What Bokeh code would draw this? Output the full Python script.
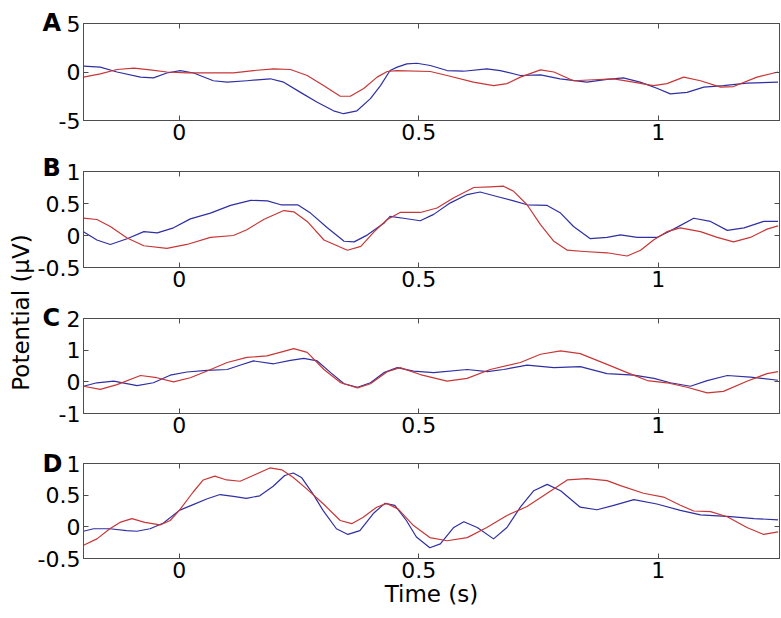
import math
from bokeh.plotting import figure
from bokeh.models import FixedTicker, CustomJSTickFormatter, LinearAxis, Label, Range1d
from bokeh.layouts import row, column
from bokeh.embed import file_html
from bokeh.resources import INLINE

# ---------------- data ----------------
X_TICKS = [0, 0.5, 1]
PANEL_LETTERS = ["A", "B", "C", "D"]
Y_RANGES = [(-5, 5), (-0.5, 1), (-1, 2), (-0.5, 1)]
Y_TICKS = [[-5, 0, 5], [-0.5, 0, 0.5, 1], [-1, 0, 1, 2], [-0.5, 0, 0.5, 1]]

A_BLUE_T = [-0.2, -0.165, -0.13, -0.081, -0.054, -0.026, 0.002, 0.03, 0.071, 0.1, 0.141, 0.19, 0.218, 0.253, 0.287,
            0.322, 0.343, 0.371, 0.399, 0.42, 0.44, 0.455, 0.475, 0.496, 0.524, 0.559, 0.593, 0.642, 0.67, 0.712,
            0.754, 0.795, 0.851, 0.893, 0.927, 0.962, 0.997, 1.025, 1.06, 1.095, 1.136, 1.185, 1.25]
A_BLUE_V = [0.6, 0.5, 0.0, -0.53, -0.6, -0.1, 0.15, -0.1, -0.9, -1.05, -0.9, -0.7, -1.05, -2.1, -3.1,
            -4.0, -4.3, -4.0, -2.75, -1.4, 0.15, 0.5, 0.84, 0.9, 0.67, 0.15, 0.08, 0.33, 0.15, -0.36,
            -0.3, -0.7, -1.05, -0.77, -0.6, -1.05, -1.67, -2.25, -2.1, -1.56, -1.4, -1.15, -1.05]
A_RED_T = [-0.2, -0.165, -0.13, -0.095, -0.061, -0.026, 0.016, 0.071, 0.113, 0.155, 0.197, 0.232, 0.267, 0.301,
           0.336, 0.357, 0.385, 0.413, 0.434, 0.454, 0.524, 0.559, 0.614, 0.656, 0.684, 0.712, 0.754, 0.782, 0.823,
           0.865, 0.907, 0.948, 0.99, 1.018, 1.053, 1.088, 1.13, 1.157, 1.206, 1.25]
A_RED_V = [-0.53, -0.2, 0.26, 0.4, 0.22, 0.0, -0.1, -0.1, -0.1, 0.15, 0.33, 0.26, -0.36, -1.4,
           -2.5, -2.5, -1.7, -0.53, 0.05, 0.15, 0.05, -0.36, -1.05, -1.4, -1.2, -0.53, 0.22, 0.0, -0.9,
           -0.8, -0.7, -1.05, -1.4, -1.2, -0.53, -0.9, -1.56, -1.5, -0.53, 0.0]

B_BLUE_T = [-0.2, -0.172, -0.144, -0.109, -0.074, -0.046, -0.012, 0.023, 0.065, 0.107, 0.149, 0.184, 0.212, 0.247,
            0.274, 0.309, 0.344, 0.365, 0.393, 0.427, 0.44, 0.468, 0.503, 0.531, 0.566, 0.601, 0.628, 0.663, 0.698,
            0.726, 0.768, 0.796, 0.823, 0.858, 0.893, 0.921, 0.956, 0.997, 1.032, 1.074, 1.109, 1.144, 1.179,
            1.22, 1.25]
B_BLUE_V = [0.06, -0.07, -0.14, -0.05, 0.06, 0.04, 0.12, 0.26, 0.35, 0.47, 0.55, 0.54, 0.48, 0.48,
            0.35, 0.12, -0.09, -0.1, 0.01, 0.19, 0.3, 0.27, 0.23, 0.33, 0.51, 0.64, 0.68, 0.61, 0.54,
            0.48, 0.47, 0.35, 0.14, -0.05, -0.03, 0.01, -0.03, -0.03, 0.1, 0.27, 0.22, 0.08, 0.12,
            0.22, 0.22]
B_RED_T = [-0.2, -0.172, -0.144, -0.109, -0.074, -0.026, 0.016, 0.065, 0.113, 0.141, 0.176, 0.218, 0.239, 0.267,
           0.302, 0.351, 0.379, 0.407, 0.434, 0.461, 0.503, 0.538, 0.573, 0.615, 0.649, 0.677, 0.698, 0.726,
           0.754, 0.782, 0.81, 0.845, 0.893, 0.935, 0.963, 0.99, 1.018, 1.046, 1.088, 1.123, 1.157, 1.192,
           1.227, 1.25]
B_RED_V = [0.27, 0.25, 0.14, -0.04, -0.16, -0.2, -0.14, -0.03, 0.0, 0.09, 0.25, 0.39, 0.37, 0.22,
           -0.07, -0.23, -0.17, 0.06, 0.25, 0.36, 0.36, 0.43, 0.59, 0.75, 0.76, 0.77, 0.69, 0.48,
           0.17, -0.09, -0.23, -0.25, -0.27, -0.32, -0.23, -0.07, 0.06, 0.12, 0.06, -0.03, -0.1, -0.03,
           0.1, 0.15]

C_BLUE_T = [-0.2, -0.172, -0.137, -0.088, -0.054, -0.019, 0.016, 0.058, 0.1, 0.128, 0.155, 0.197, 0.232, 0.26,
            0.288, 0.316, 0.344, 0.372, 0.399, 0.427, 0.455, 0.489, 0.531, 0.601, 0.643, 0.677, 0.726, 0.782,
            0.837, 0.893, 0.949, 0.991, 1.025, 1.067, 1.102, 1.144, 1.192, 1.25]
C_BLUE_V = [-0.14, -0.03, 0.02, -0.12, -0.03, 0.21, 0.31, 0.36, 0.39, 0.53, 0.66, 0.57, 0.68, 0.74,
            0.66, 0.29, -0.06, -0.17, -0.03, 0.29, 0.45, 0.34, 0.29, 0.39, 0.32, 0.39, 0.53, 0.45,
            0.48, 0.26, 0.21, 0.11, -0.03, -0.14, 0.04, 0.2, 0.15, 0.05]
C_RED_T = [-0.2, -0.165, -0.13, -0.081, -0.047, -0.012, 0.023, 0.058, 0.1, 0.141, 0.183, 0.218, 0.239, 0.267,
           0.302, 0.337, 0.372, 0.399, 0.434, 0.461, 0.503, 0.559, 0.601, 0.649, 0.712, 0.754, 0.796, 0.837,
           0.893, 0.935, 0.977, 1.018, 1.06, 1.102, 1.136, 1.185, 1.227, 1.25]
C_RED_V = [-0.14, -0.24, -0.09, 0.2, 0.13, 0.0, 0.13, 0.34, 0.61, 0.77, 0.82, 0.96, 1.05, 0.93,
           0.39, -0.03, -0.19, -0.06, 0.32, 0.45, 0.23, 0.02, 0.11, 0.39, 0.61, 0.87, 0.98, 0.89,
           0.55, 0.29, 0.04, -0.03, -0.17, -0.35, -0.3, 0.02, 0.26, 0.32]

D_BLUE_T = [-0.2, -0.179, -0.145, -0.11, -0.089, -0.061, -0.033, 0.0, 0.029, 0.057, 0.085, 0.113, 0.14, 0.168,
            0.196, 0.22, 0.238, 0.255, 0.279, 0.3, 0.328, 0.352, 0.377, 0.405, 0.429, 0.45, 0.474, 0.495, 0.523,
            0.545, 0.573, 0.594, 0.622, 0.656, 0.684, 0.712, 0.74, 0.768, 0.796, 0.837, 0.872, 0.907, 0.949,
            0.997, 1.046, 1.088, 1.151, 1.2, 1.25]
D_BLUE_V = [-0.07, -0.03, -0.03, -0.06, -0.07, -0.03, 0.06, 0.26, 0.35, 0.44, 0.51, 0.48, 0.45, 0.49,
            0.64, 0.81, 0.85, 0.78, 0.52, 0.26, -0.03, -0.12, -0.06, 0.21, 0.37, 0.34, 0.1, -0.16, -0.33,
            -0.27, -0.01, 0.08, -0.01, -0.19, -0.01, 0.31, 0.57, 0.67, 0.57, 0.31, 0.27, 0.34, 0.43,
            0.36, 0.26, 0.19, 0.16, 0.13, 0.11]
D_RED_T = [-0.2, -0.172, -0.145, -0.124, -0.099, -0.072, -0.04, -0.019, 0.0, 0.029, 0.05, 0.074, 0.099, 0.127,
           0.154, 0.189, 0.214, 0.238, 0.266, 0.301, 0.336, 0.36, 0.384, 0.412, 0.433, 0.457, 0.489, 0.523,
           0.559, 0.601, 0.642, 0.684, 0.726, 0.768, 0.81, 0.851, 0.893, 0.921, 0.969, 1.011, 1.046, 1.074,
           1.109, 1.144, 1.185, 1.22, 1.25]
D_RED_V = [-0.29, -0.19, -0.03, 0.07, 0.13, 0.07, 0.03, 0.1, 0.26, 0.55, 0.74, 0.8, 0.74, 0.72,
           0.81, 0.93, 0.9, 0.78, 0.6, 0.36, 0.1, 0.05, 0.15, 0.31, 0.37, 0.28, 0.02, -0.17,
           -0.22, -0.17, -0.01, 0.18, 0.32, 0.53, 0.74, 0.76, 0.73, 0.65, 0.53, 0.47, 0.34, 0.25,
           0.24, 0.16, -0.01, -0.12, -0.08]

SERIES = [
    (A_BLUE_T, A_BLUE_V, A_RED_T, A_RED_V),
    (B_BLUE_T, B_BLUE_V, B_RED_T, B_RED_V),
    (C_BLUE_T, C_BLUE_V, C_RED_T, C_RED_V),
    (D_BLUE_T, D_BLUE_V, D_RED_T, D_RED_V),
]

# ---------------- style ----------------
FONT = "DejaVu Sans"
TICK_SIZE = "22px"
LABEL_SIZE = "23px"
AXIS_COLOR = "#4d4d4d"
BLUE = "#2f2fa3"
RED = "#c83636"
X_MIN, X_MAX = -0.2, 1.253

HEIGHTS = [148, 147, 145, 166]
BORDER_BOTTOM = [36, 36, 35, 56]
BORDER_TOP = 15
LETTER_DY = [1, 4, 1, 0]
PANEL_W = 749
LEFT_W = 60          # left strip holding "Potential" and panel letters
OVERLAP = 36         # panels overlap the left strip (their borders are transparent)
BORDER_LEFT = 51
PAGE_MARGIN = 8

label_fmt = CustomJSTickFormatter(code="return tick.toString();")
blank_fmt = CustomJSTickFormatter(code="return '';")

panels = []
for i in range(4):
    p = figure(width=PANEL_W, height=HEIGHTS[i], output_backend="svg", toolbar_location=None,
               x_range=Range1d(X_MIN, X_MAX), y_range=Range1d(*Y_RANGES[i]),
               min_border_left=BORDER_LEFT, min_border_right=2, min_border_top=BORDER_TOP,
               min_border_bottom=BORDER_BOTTOM[i], x_axis_location=None, y_axis_location=None)
    p.grid.visible = False
    p.outline_line_color = AXIS_COLOR
    p.outline_line_width = 1
    p.background_fill_color = "white"
    p.border_fill_color = None

    for loc, tick_vals, fmt in [("below", X_TICKS, label_fmt), ("above", X_TICKS, blank_fmt),
                                ("left", Y_TICKS[i], label_fmt), ("right", Y_TICKS[i], blank_fmt)]:
        ax = LinearAxis(ticker=FixedTicker(ticks=tick_vals), formatter=fmt)
        ax.major_tick_in = 5
        ax.major_tick_out = 0
        ax.minor_tick_line_color = None
        ax.axis_line_color = AXIS_COLOR
        ax.major_tick_line_color = AXIS_COLOR
        ax.major_label_text_font = FONT
        ax.major_label_text_color = "black"
        if fmt is label_fmt:
            ax.major_label_text_font_size = TICK_SIZE
            ax.major_label_standoff = 3
        else:
            ax.major_label_text_font_size = "0px"
            ax.major_label_standoff = 0
        if i == 3 and loc == "below":
            ax.axis_label = "Time (s)"
            ax.axis_label_text_font = FONT
            ax.axis_label_text_font_size = LABEL_SIZE
            ax.axis_label_text_font_style = "normal"
            ax.axis_label_text_color = "black"
            ax.axis_label_standoff = 0
        p.add_layout(ax, loc)

    bt, bv, rt, rv = SERIES[i]
    p.line(bt, bv, line_color=BLUE, line_width=1.2, line_join="round")
    p.line(rt, rv, line_color=RED, line_width=1.2, line_join="round")
    panels.append(p)

total_h = sum(HEIGHTS)
lab = figure(width=LEFT_W, height=total_h, output_backend="svg", toolbar_location=None,
             x_range=Range1d(0, 1), y_range=Range1d(0, 1), min_border=0,
             x_axis_location=None, y_axis_location=None)
lab.grid.visible = False
lab.outline_line_color = None
lab.background_fill_color = None
lab.border_fill_color = None
lab.add_layout(Label(x=12, y=total_h - 304, x_units="screen", y_units="screen",
                     text="Potential (\u03bcV)", angle=math.pi / 2, text_align="center",
                     text_baseline="middle", text_font=FONT, text_font_size=LABEL_SIZE,
                     text_color="black"))

# panel letters, placed just above each panel's frame
offset = 0
for i in range(4):
    frame_top = offset + BORDER_TOP          # from the top of the strip
    baseline_from_top = frame_top - LETTER_DY[i]
    lab.add_layout(Label(x=34, y=total_h - baseline_from_top, x_units="screen", y_units="screen",
                         text=PANEL_LETTERS[i], text_font=FONT, text_font_size="24px",
                         text_font_style="bold", text_color="black", text_baseline="alphabetic"))
    offset += HEIGHTS[i]

col = column(*panels, spacing=0, margin=(0, 0, 0, -OVERLAP))
layout = row(lab, col, spacing=0, margin=(PAGE_MARGIN, 0, 0, PAGE_MARGIN))

with open("out.html", "w") as f:
    f.write(file_html(layout, INLINE))
